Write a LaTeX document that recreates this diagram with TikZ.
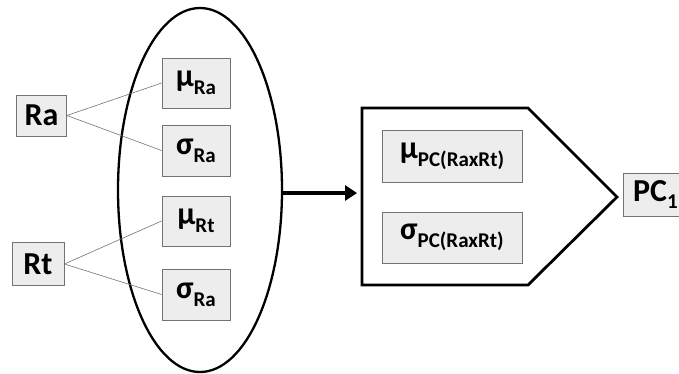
\documentclass[tikz,border=0pt]{standalone}
\usepackage{fontspec}
\setmainfont{Carlito}
\usetikzlibrary{arrows.meta,shapes.geometric}
\newcommand{\sbx}[1]{\raisebox{-0.24em}{\fontsize{21}{21}\selectfont #1}}
\tikzset{
  gbox/.style={draw=black!55, fill=black!7, line width=0.8pt, inner sep=0pt,
    font=\bfseries\fontsize{32}{32}\selectfont},
  link/.style={draw=black!55, line width=0.6pt},
}
\begin{document}
\begin{tikzpicture}[x=1pt,y=-1pt]
\useasboundingbox (0,0) rectangle (679,373);
% ellipse
\node (ell) [draw, ellipse, line width=2.3pt, minimum width=164pt, minimum height=364pt, inner sep=0pt] at (200,190) {};
% left boxes
\node (ra) [gbox, minimum width=50pt, minimum height=41pt] at (41.5,115.5) {Ra};
\node (rt) [gbox, minimum width=52pt, minimum height=43pt] at (38,264) {Rt};
\node (mra) [gbox, minimum width=68pt, minimum height=50pt] at (196,83) {μ\sbx{Ra}};
\node (sra) [gbox, minimum width=68pt, minimum height=51pt] at (196,150.5) {σ\sbx{Ra}};
\node (mrt) [gbox, minimum width=68pt, minimum height=50pt] at (196,221) {μ\sbx{Rt}};
\node (sra2) [gbox, minimum width=68pt, minimum height=51pt] at (196,294.5) {σ\sbx{Ra}};
\draw[link] (ra.east) -- (mra.west);
\draw[link] (ra.east) -- (sra.west);
\draw[link] (rt.east) -- (mrt.west);
\draw[link] (rt.east) -- (sra2.west);
% pentagon
\draw[line width=2.8pt, line join=miter] (362,108) -- (528,108) -- (617,197) -- (528,285) -- (362,285) -- cycle;
\coordinate (pw) at (362,193);
\node (mpc) [gbox, minimum width=140pt, minimum height=52pt] at (452,156) {μ\sbx{PC(RaxRt)}};
\node (spc) [gbox, minimum width=140pt, minimum height=51pt] at (452,237.5) {σ\sbx{PC(RaxRt)}};
% output
\node (pc) [gbox, minimum width=64pt, minimum height=43pt, anchor=west] at (623,194.5) {PC\sbx{1}};
% arrow
\coordinate (ae) at (ell.east |- pw);
\draw[line width=3.2pt, -{Triangle[length=12pt,width=15pt]}, shorten >=5pt] (ae) -- (pw);
\end{tikzpicture}
\end{document}
